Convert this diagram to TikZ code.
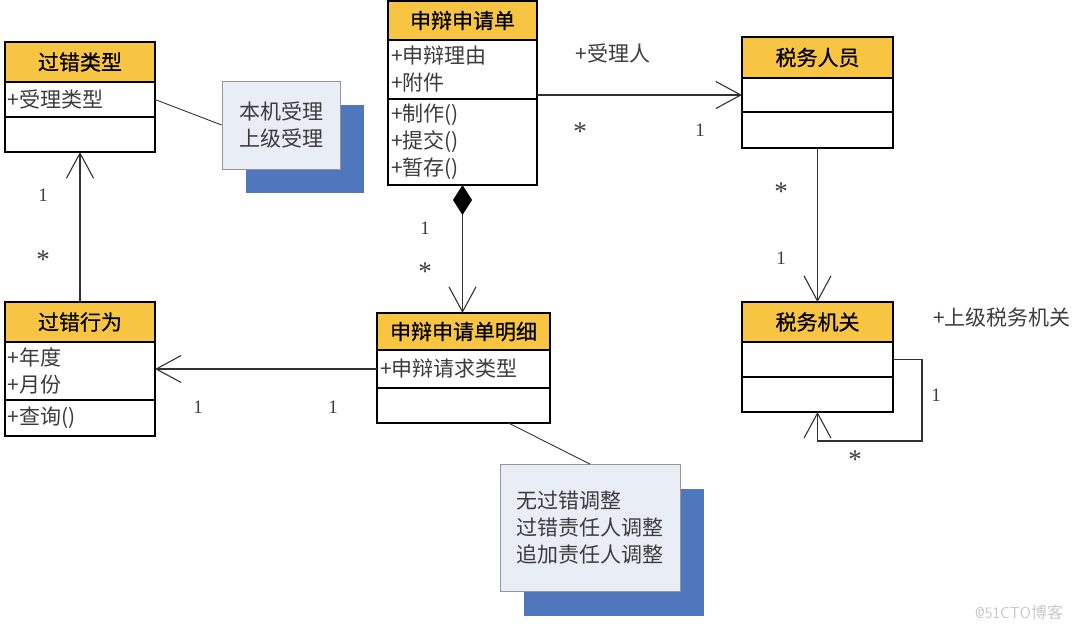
\documentclass[tikz,border=0pt]{standalone}
\usepackage{fontspec}
\setmainfont{Liberation Serif}
\newfontfamily\cjk{Noto Sans CJK SC}
\newfontfamily\cjkhead{Noto Sans CJK SC}[FakeBold=0.6]
\usetikzlibrary{positioning, arrows.meta, shadows}

\definecolor{umlhead}{RGB}{247,197,66}
\definecolor{notefill}{RGB}{233,237,245}
\definecolor{notedraw}{RGB}{150,150,150}
\definecolor{shadowblue}{RGB}{80,118,190}
\definecolor{linegray}{RGB}{50,50,50}
\definecolor{textgray}{RGB}{60,60,60}
\definecolor{marktext}{RGB}{200,200,200}

\tikzset{
  classhead/.style={draw=black, line width=1.3pt, fill=umlhead, anchor=north west,
    inner sep=0pt, outer sep=0pt, text=black, font=\cjkhead\fontsize{21}{24}\selectfont},
  compart/.style 2 args={draw=black, line width=1.3pt, fill=white, inner xsep=3pt,
    inner ysep=0pt, outer sep=0pt, minimum width=#1, text width=#2, align=left,
    text=textgray, font=\cjk\fontsize{21}{27}\selectfont},
  umlnote/.style={draw=notedraw, fill=notefill, line width=0.8pt, inner sep=0pt,
    drop shadow={shadow xshift=24pt, shadow yshift=-24pt, fill=shadowblue, opacity=1},
    text=textgray, font=\cjk\fontsize{21}{27}\selectfont},
  assoc/.style={draw=linegray, line width=1.1pt},
  openhead/.style={-{Straight Barb[length=25pt, width=27pt]}},
  mult/.style={text=textgray, font=\fontsize{19}{22}\selectfont, inner sep=0pt},
  many/.style={mult, font=\fontsize{27}{27}\selectfont},
  rolelabel/.style={text=textgray, font=\cjk\fontsize{21}{24}\selectfont, inner sep=0pt}
}

\begin{document}
\begin{tikzpicture}[x=1pt, y=-1pt]
  \useasboundingbox (0,0) rectangle (1080,630);

  % ---- classes ----
  % 过错类型
  \node[classhead, minimum width=150, minimum height=40] (cuolei) at (5,42) {过错类型};
  \node[compart={150pt}{144pt}, minimum height=35, below=0pt of cuolei] (cuolei-a) {+受理类型};
  \node[compart={150pt}{144pt}, minimum height=35, below=0pt of cuolei-a] (cuolei-o) {};

  % 申辩申请单
  \node[classhead, minimum width=149, minimum height=39] (shenqing) at (388,1) {申辩申请单};
  \node[compart={149pt}{143pt}, minimum height=59, below=0pt of shenqing] (shenqing-a) {+申辩理由\\+附件};
  \node[compart={149pt}{143pt}, minimum height=86, below=0pt of shenqing-a] (shenqing-o) {+制作()\\+提交()\\+暂存()};

  % 税务人员
  \node[classhead, minimum width=151, minimum height=41] (renyuan) at (742,37) {税务人员};
  \node[compart={151pt}{145pt}, minimum height=34, below=0pt of renyuan] (renyuan-a) {};
  \node[compart={151pt}{145pt}, minimum height=36, below=0pt of renyuan-a] (renyuan-o) {};

  % 税务机关
  \node[classhead, minimum width=151, minimum height=40] (jiguan) at (742,302) {税务机关};
  \node[compart={151pt}{145pt}, minimum height=35, below=0pt of jiguan] (jiguan-a) {};
  \node[compart={151pt}{145pt}, minimum height=35, below=0pt of jiguan-a] (jiguan-o) {};

  % 过错行为
  \node[classhead, minimum width=150, minimum height=40] (xingwei) at (5,302) {过错行为};
  \node[compart={150pt}{144pt}, minimum height=58, below=0pt of xingwei] (xingwei-a) {+年度\\+月份};
  \node[compart={150pt}{144pt}, minimum height=36, below=0pt of xingwei-a] (xingwei-o) {+查询()};

  % 申辩申请单明细
  \node[classhead, minimum width=173, minimum height=37] (mingxi) at (377,313) {申辩申请单明细};
  \node[compart={173pt}{167pt}, minimum height=38, below=0pt of mingxi] (mingxi-a) {+申辩请求类型};
  \node[compart={173pt}{167pt}, minimum height=35, below=0pt of mingxi-a] (mingxi-o) {};

  % ---- notes ----
  \node[umlnote, minimum width=118, minimum height=88, align=center] (note1) at (281,125) {本机受理\\上级受理};
  \node[umlnote, minimum width=180, minimum height=127, align=left] (note2) at (590,528) {无过错调整\\过错责任人调整\\追加责任人调整};

  \draw[assoc, line width=0.9pt] (cuolei-a.east) -- (note1.west);
  \coordinate (mingxi-foot) at ([xshift=45pt]mingxi-o.south);
  \draw[assoc, line width=0.9pt] (mingxi-foot) -- (note2.north);

  % ---- associations ----
  \draw[assoc, openhead] (xingwei.north) -- (cuolei-o.south);
  \draw[assoc, openhead] (renyuan-a.west -| shenqing-a.east) -- (renyuan-a.west);
  \draw[assoc, openhead] (renyuan-o.south) -- (jiguan.north);
  \draw[assoc, openhead] (mingxi-a.west) -- (mingxi-a.west -| xingwei-a.east);
  \draw[assoc, {Diamond[length=30pt, width=19pt, fill=black, color=black]}-{Straight Barb[length=25pt, width=27pt]}]
    (shenqing-o.south) -- (shenqing-o.south |- mingxi.north);

  % self association of 税务机关
  \coordinate (loop-c) at ([xshift=29pt, yshift=-29pt]jiguan-o.south east);
  \draw[assoc, openhead] (jiguan-a.east) -| (loop-c) -| (jiguan-o.south);

  % ---- role names and multiplicities ----
  \node[rolelabel] (role1) at (613,53) {+受理人};
  \node[rolelabel] (role2) at (1002,318) {+上级税务机关};
  \foreach \x/\y/\m [count=\i] in {700/130/1, 781/258/1, 936/395/1, 43/195/1,
      198/407/1, 333/407/1, 425/228/1} {
    \node[mult] (one\i) at (\x,\y) {\m};
  }
  \foreach \x/\y [count=\i] in {580/132, 781/192, 855/460, 43/260, 425/272} {
    \node[many] (many\i) at (\x,\y) {*};
  }

  \node[text=marktext, font=\sffamily\fontsize{16}{18}\selectfont, inner sep=0pt] (mark) at (1019,612) {@51CTO{\cjk 博客}};
\end{tikzpicture}
\end{document}
